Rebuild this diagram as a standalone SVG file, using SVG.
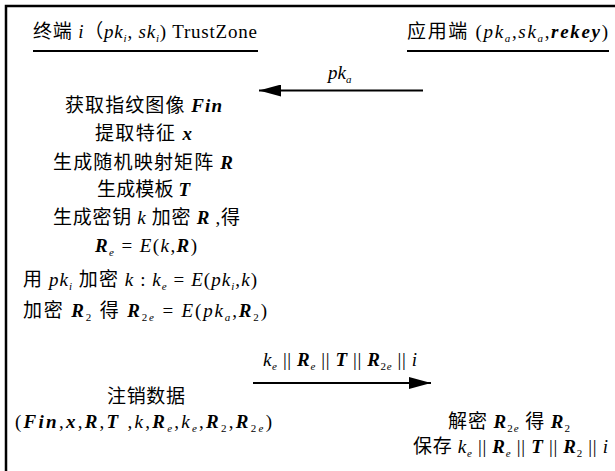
<svg xmlns="http://www.w3.org/2000/svg" width="615" height="471" viewBox="0 0 615 471">
<style>
text{font-family:"Liberation Serif","Noto Sans CJK SC",serif;font-size:19px;fill:#000}
.i{font-style:italic}
.bi{font-style:italic;font-weight:bold}
.s{font-size:11px;font-style:italic}
.s2{font-size:11px}
.ln{stroke:#000;stroke-width:2;fill:none}
</style>
<defs>
<marker id="ah" markerUnits="userSpaceOnUse" markerWidth="22" markerHeight="12" refX="22" refY="6" orient="auto">
<path d="M0,0 L22,6 L0,12 z" fill="#000"/>
</marker>
</defs>
<rect width="615" height="471" fill="#fff"/>
<g id="frame">
<path d="M6,471 V6 H615" stroke="#000" stroke-width="2.5" fill="none"/>
</g>
<g id="header-terminal">
<text x="33" y="38" textLength="224" lengthAdjust="spacing">终端 <tspan class="i">i</tspan>（<tspan class="i">pk</tspan><tspan class="s" dy="4">i</tspan><tspan dy="-4">, </tspan><tspan class="i">sk</tspan><tspan class="s" dy="4">i</tspan><tspan dy="-4">) TrustZone</tspan></text>
<line class="ln" x1="33" y1="51" x2="258" y2="51"/>
</g>
<g id="header-app">
<text x="407" y="38" textLength="201" lengthAdjust="spacing">应用端 (<tspan class="i">pk</tspan><tspan class="s" dy="4">a</tspan><tspan dy="-4">,</tspan><tspan class="i">sk</tspan><tspan class="s" dy="4">a</tspan><tspan dy="-4">,</tspan><tspan class="bi">rekey</tspan>)</text>
<line class="ln" x1="407" y1="51" x2="609" y2="51"/>
</g>
<g id="connectors">
<line class="ln" x1="423" y1="90.5" x2="259" y2="90.5" marker-end="url(#ah)"/>
<text x="328" y="79"><tspan class="i">pk</tspan><tspan class="s" dy="4">a</tspan></text>
<line class="ln" x1="253" y1="383" x2="431" y2="383" marker-end="url(#ah)"/>
<text x="263" y="366" textLength="154" lengthAdjust="spacing"><tspan class="i">k</tspan><tspan class="s" dy="4">e</tspan><tspan dy="-4"> || </tspan><tspan class="bi">R</tspan><tspan class="s" dy="4">e</tspan><tspan dy="-4"> || </tspan><tspan class="bi">T</tspan> || <tspan class="bi">R</tspan><tspan class="s2" dy="4">2</tspan><tspan class="s">e</tspan><tspan dy="-4"> || </tspan><tspan class="i">i</tspan></text>
</g>
<g id="terminal-steps">
<text x="65" y="112" textLength="157" lengthAdjust="spacing">获取指纹图像 <tspan class="bi">Fin</tspan></text>
<text x="95" y="140" textLength="97" lengthAdjust="spacing">提取特征 <tspan class="bi">x</tspan></text>
<text x="53" y="169" textLength="180" lengthAdjust="spacing">生成随机映射矩阵 <tspan class="bi">R</tspan></text>
<text x="97" y="196" textLength="93" lengthAdjust="spacing">生成模板 <tspan class="bi">T</tspan></text>
<text x="53" y="224" textLength="187" lengthAdjust="spacing">生成密钥 <tspan class="i">k</tspan> 加密 <tspan class="bi">R</tspan> ,得</text>
<text x="95" y="252" textLength="102" lengthAdjust="spacing"><tspan class="bi">R</tspan><tspan class="s" dy="4">e</tspan><tspan dy="-4"> = </tspan><tspan class="i">E</tspan>(<tspan class="i">k</tspan>,<tspan class="bi">R</tspan>)</text>
<text x="23" y="286" textLength="234" lengthAdjust="spacing">用 <tspan class="i">pk</tspan><tspan class="s" dy="4">i</tspan><tspan dy="-4"> 加密 </tspan><tspan class="i">k</tspan> : <tspan class="i">k</tspan><tspan class="s" dy="4">e</tspan><tspan dy="-4"> = </tspan><tspan class="i">E</tspan>(<tspan class="i">pk</tspan><tspan class="s" dy="4">i</tspan><tspan dy="-4">,</tspan><tspan class="i">k</tspan>)</text>
<text x="23" y="317" textLength="244" lengthAdjust="spacing">加密 <tspan class="bi">R</tspan><tspan class="s2" dy="4">2</tspan><tspan dy="-4"> 得 </tspan><tspan class="bi">R</tspan><tspan class="s2" dy="4">2</tspan><tspan class="s">e</tspan><tspan dy="-4"> = </tspan><tspan class="i">E</tspan>(<tspan class="i">pk</tspan><tspan class="s" dy="4">a</tspan><tspan dy="-4">,</tspan><tspan class="bi">R</tspan><tspan class="s2" dy="4">2</tspan><tspan dy="-4">)</tspan></text>
<text x="107" y="403" textLength="78" lengthAdjust="spacing">注销数据</text>
<text x="15" y="428" textLength="257" lengthAdjust="spacing">(<tspan class="bi">Fin</tspan>,<tspan class="bi">x</tspan>,<tspan class="bi">R</tspan>,<tspan class="bi">T</tspan> ,<tspan class="i">k</tspan>,<tspan class="bi">R</tspan><tspan class="s" dy="4">e</tspan><tspan dy="-4">,</tspan><tspan class="i">k</tspan><tspan class="s" dy="4">e</tspan><tspan dy="-4">,</tspan><tspan class="bi">R</tspan><tspan class="s2" dy="4">2</tspan><tspan dy="-4">,</tspan><tspan class="bi">R</tspan><tspan class="s2" dy="4">2</tspan><tspan class="s">e</tspan><tspan dy="-4">)</tspan></text>
</g>
<g id="app-steps">
<text x="448" y="428" textLength="122" lengthAdjust="spacing">解密 <tspan class="bi">R</tspan><tspan class="s2" dy="4">2</tspan><tspan class="s">e</tspan><tspan dy="-4"> 得 </tspan><tspan class="bi">R</tspan><tspan class="s2" dy="4">2</tspan></text>
<text x="413" y="453" textLength="195" lengthAdjust="spacing">保存 <tspan class="i">k</tspan><tspan class="s" dy="4">e</tspan><tspan dy="-4"> || </tspan><tspan class="bi">R</tspan><tspan class="s" dy="4">e</tspan><tspan dy="-4"> || </tspan><tspan class="bi">T</tspan> || <tspan class="bi">R</tspan><tspan class="s2" dy="4">2</tspan><tspan dy="-4"> || </tspan><tspan class="i">i</tspan></text>
</g>
</svg>
